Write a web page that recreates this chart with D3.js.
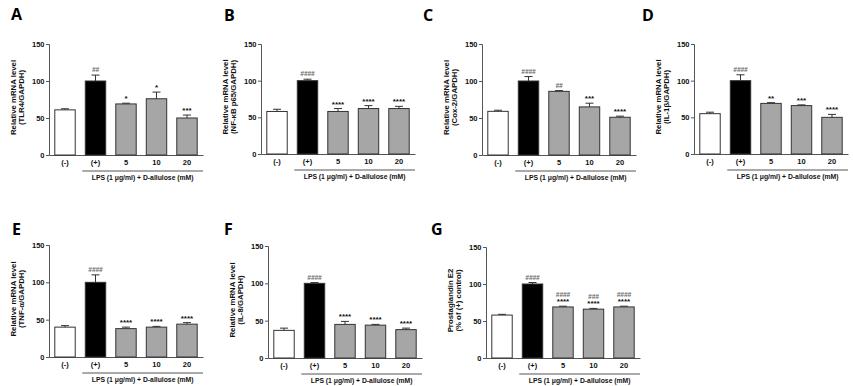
<!DOCTYPE html>
<html>
<head>
<meta charset="utf-8">
<script src="https://cdn.jsdelivr.net/npm/d3@7"></script>
<style>
  body { margin: 0; background: #fff; }
  svg text { font-family: "Liberation Sans", Arial, sans-serif; font-weight: bold; }
  .letter { font-family: "Open Sans", sans-serif; font-size: 16px; font-weight: 700; }
</style>
</head>
<body>
<svg id="chart" width="853" height="386"></svg>
<script>
// groups on the x axis
var groups = ["(-)", "(+)", "5", "10", "20"];
var yTicks = [0, 50, 100, 150];
var lpsLabel = "LPS (1 \u03bcg/ml) + D-allulose (mM)";

// A: TLR4
var tlr4Mean = [61, 100, 69, 76, 50];
var tlr4Err  = [1.5, 8, 1, 9, 4];
var tlr4Hash = ["", "##", "", "", ""];
var tlr4Star = ["", "", "*", "*", "***"];

// B: NF-kB p65
var p65Mean = [58, 100, 58, 62, 62];
var p65Err  = [3, 2, 4, 4, 3];
var p65Hash = ["", "####", "", "", ""];
var p65Star = ["", "", "****", "****", "****"];

// C: Cox-2
var cox2Mean = [59, 100, 86, 65, 51];
var cox2Err  = [1.5, 6, 1, 5, 1.5];
var cox2Hash = ["", "####", "##", "", ""];
var cox2Star = ["", "", "", "***", "****"];

// D: IL-1b
var il1bMean = [55, 100, 69, 66, 50];
var il1bErr  = [2, 8, 1, 1, 4];
var il1bHash = ["", "####", "", "", ""];
var il1bStar = ["", "", "**", "***", "****"];

// E: TNF-a
var tnfMean = [40, 100, 38, 40, 44];
var tnfErr  = [2, 10, 2, 1, 2];
var tnfHash = ["", "####", "", "", ""];
var tnfStar = ["", "", "****", "****", "****"];

// F: IL-8
var il8Mean = [37, 100, 45, 44, 38];
var il8Err  = [3, 1, 4, 1, 2];
var il8Hash = ["", "####", "", "", ""];
var il8Star = ["", "", "****", "****", "****"];

// G: prostaglandin E2
var pge2Mean = [58, 100, 69, 66, 69];
var pge2Err  = [1, 2, 1, 1, 1];
var pge2Hash = ["", "####", "####", "###", "####"];
var pge2Star = ["", "", "****", "****", "****"];

var fills = ["#ffffff", "#000000", "#a6a6a6", "#a6a6a6", "#a6a6a6"];

var panels = [
  {letter:"A", lx:11, ly:20, ax:49,  top:44,  bot:155, t1:"Relative mRNA level", t2:"(TLR4/GAPDH)", mean:tlr4Mean, err:tlr4Err, hash:tlr4Hash, star:tlr4Star},
  {letter:"B", lx:224, ly:21, ax:261, top:44, bot:154, t1:"Relative mRNA level", t2:"(NF-\u03baB p65/GAPDH)", mean:p65Mean, err:p65Err, hash:p65Hash, star:p65Star},
  {letter:"C", lx:423, ly:21, ax:482, top:44, bot:155, t1:"Relative mRNA level", t2:"(Cox-2/GAPDH)", mean:cox2Mean, err:cox2Err, hash:cox2Hash, star:cox2Star},
  {letter:"D", lx:642, ly:21, ax:694, top:44, bot:154, t1:"Relative mRNA level", t2:"(IL-1\u03b2/GAPDH)", mean:il1bMean, err:il1bErr, hash:il1bHash, star:il1bStar},
  {letter:"E", lx:12, ly:235, ax:49,  top:245, bot:357, t1:"Relative mRNA level", t2:"(TNF-\u03b1/GAPDH)", mean:tnfMean, err:tnfErr, hash:tnfHash, star:tnfStar},
  {letter:"F", lx:224, ly:235, ax:268, top:246, bot:358, t1:"Relative mRNA level", t2:"(IL-8/GAPDH)", mean:il8Mean, err:il8Err, hash:il8Hash, star:il8Star},
  {letter:"G", lx:431, ly:235, ax:486, top:247, bot:358, t1:"Prostaglandin E2", t2:"(% of (+) control)", mean:pge2Mean, err:pge2Err, hash:pge2Hash, star:pge2Star}
];

var svg = d3.select("#chart");

panels.forEach(function(p) {
  var g = svg.append("g");
  var x = d3.scaleBand().domain(groups).range([p.ax, p.ax + 154]).paddingInner(0.33).paddingOuter(0.19);
  var y = d3.scaleLinear().domain([0, 150]).range([p.bot, p.top]);

  g.append("text").attr("class", "letter").attr("x", p.lx).attr("y", p.ly).text(p.letter);

  // y axis
  var yAxis = g.append("g").attr("transform", "translate(" + p.ax + ",0)")
    .call(d3.axisLeft(y).tickValues(yTicks).tickSize(3).tickPadding(1.5));
  yAxis.selectAll("text").style("font-size", "7.5px").attr("fill", "#111");
  yAxis.selectAll("line,path").attr("stroke", "#555");

  // x axis
  var xAxis = g.append("g").attr("transform", "translate(0," + p.bot + ")")
    .call(d3.axisBottom(x).tickSize(0).tickPadding(5).tickSizeOuter(0));
  xAxis.selectAll("text").style("font-size", "7.5px").attr("fill", "#111");
  xAxis.select("path").attr("stroke", "#555");

  // y title
  var cy = (p.top + p.bot) / 2 - 2;
  g.append("text").attr("transform", "translate(" + (p.ax - 33) + "," + cy + ") rotate(-90)")
    .attr("text-anchor", "middle").style("font-size", "7.8px").attr("fill", "#111").text(p.t1);
  g.append("text").attr("transform", "translate(" + (p.ax - 25) + "," + cy + ") rotate(-90)")
    .attr("text-anchor", "middle").style("font-size", "7.8px").attr("fill", "#111").text(p.t2);

  // bars
  var rows = groups.map(function(k, i) {
    return {k:k, m:p.mean[i], e:p.err[i], h:p.hash[i], s:p.star[i], f:fills[i]};
  });
  g.selectAll("rect.bar").data(rows).join("rect").attr("class", "bar")
    .attr("x", function(d) { return x(d.k); })
    .attr("width", x.bandwidth())
    .attr("y", function(d) { return y(d.m); })
    .attr("height", function(d) { return y(0) - y(d.m); })
    .attr("fill", function(d) { return d.f; })
    .attr("stroke", "#333").attr("stroke-width", 1);

  // error bars
  var cx = function(d) { return x(d.k) + x.bandwidth() / 2; };
  g.selectAll("line.err").data(rows).join("line").attr("class", "err")
    .attr("x1", cx).attr("x2", cx)
    .attr("y1", function(d) { return y(d.m); })
    .attr("y2", function(d) { return y(d.m + d.e); })
    .attr("stroke", "#333");
  g.selectAll("line.cap").data(rows).join("line").attr("class", "cap")
    .attr("x1", function(d) { return cx(d) - 4; }).attr("x2", function(d) { return cx(d) + 4; })
    .attr("y1", function(d) { return y(d.m + d.e); })
    .attr("y2", function(d) { return y(d.m + d.e); })
    .attr("stroke", "#333");

  // significance marks
  g.selectAll("text.star").data(rows).join("text").attr("class", "star")
    .attr("x", cx).attr("y", function(d) { return y(d.m + d.e) - 2; })
    .attr("text-anchor", "middle").style("font-size", "8px").attr("fill", "#111")
    .text(function(d) { return d.s; });
  g.selectAll("text.hash").data(rows).join("text").attr("class", "hash")
    .attr("x", cx).attr("y", function(d) { return y(d.m + d.e) - (d.s ? 9 : 3); })
    .attr("text-anchor", "middle").style("font-size", "6.5px").style("font-style", "italic")
    .attr("fill", "#666").text(function(d) { return d.h; });

  // LPS bracket
  var bx0 = x("(+)") - 3, bx1 = p.ax + 154;
  g.append("line").attr("x1", bx0).attr("x2", bx1).attr("y1", p.bot + 16).attr("y2", p.bot + 16)
    .attr("stroke", "#555");
  g.append("text").attr("x", (bx0 + bx1) / 2).attr("y", p.bot + 25).attr("text-anchor", "middle")
    .style("font-size", "6.8px").attr("fill", "#111").text(lpsLabel);
});
</script>
</body>
</html>
